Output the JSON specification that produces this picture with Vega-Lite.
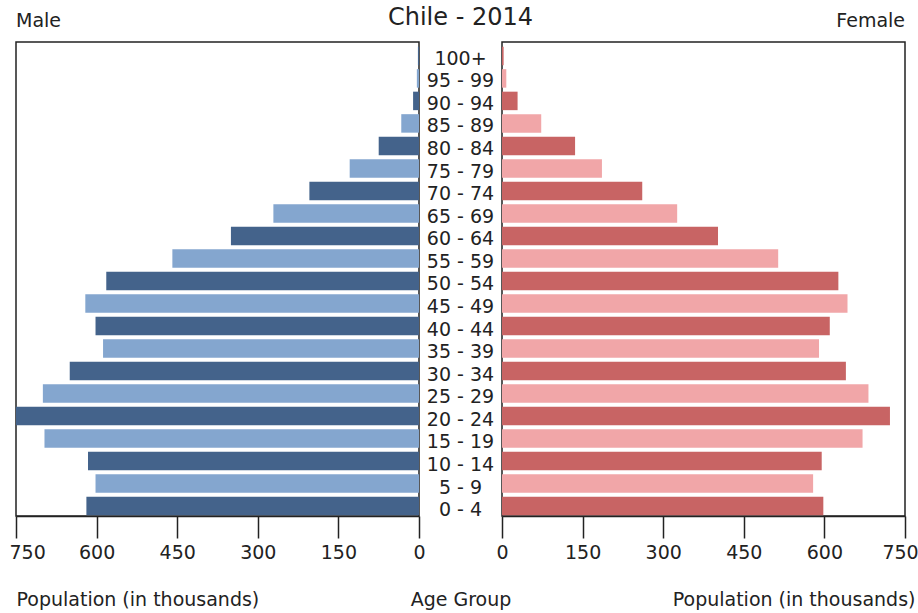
{
  "$schema": "https://vega.github.io/schema/vega-lite/v6.json",
  "padding": {"left": 8, "top": 6, "right": 5, "bottom": 5},
  "background": "white",
  "bounds": "flush",
  "spacing": 0,
  "data": {
    "values": [
      {"age": "100+", "male": 2, "female": 3},
      {"age": "95 - 99", "male": 4, "female": 8},
      {"age": "90 - 94", "male": 11, "female": 29},
      {"age": "85 - 89", "male": 33, "female": 73},
      {"age": "80 - 84", "male": 75, "female": 136},
      {"age": "75 - 79", "male": 129, "female": 186},
      {"age": "70 - 74", "male": 204, "female": 261},
      {"age": "65 - 69", "male": 271, "female": 326},
      {"age": "60 - 64", "male": 350, "female": 402},
      {"age": "55 - 59", "male": 459, "female": 514},
      {"age": "50 - 54", "male": 582, "female": 626},
      {"age": "45 - 49", "male": 621, "female": 643},
      {"age": "40 - 44", "male": 602, "female": 610},
      {"age": "35 - 39", "male": 588, "female": 590},
      {"age": "30 - 34", "male": 650, "female": 640},
      {"age": "25 - 29", "male": 700, "female": 682},
      {"age": "20 - 24", "male": 750, "female": 722},
      {"age": "15 - 19", "male": 697, "female": 671},
      {"age": "10 - 14", "male": 616, "female": 595},
      {"age": "5 - 9", "male": 602, "female": 579},
      {"age": "0 - 4", "male": 619, "female": 598}
    ]
  },
  "hconcat": [
    {
      "width": 403,
      "height": 474,
      "title": {"text": "Male", "anchor": "start", "frame": "group", "fontSize": 19, "fontWeight": "normal", "baseline": "alphabetic", "offset": -4, "color": "#222"},
      "mark": {"type": "bar"},
      "encoding": {
        "y": {"field": "age", "type": "nominal",
          "sort": ["100+","95 - 99","90 - 94","85 - 89","80 - 84","75 - 79","70 - 74","65 - 69","60 - 64","55 - 59","50 - 54","45 - 49","40 - 44","35 - 39","30 - 34","25 - 29","20 - 24","15 - 19","10 - 14","5 - 9","0 - 4"],
          "scale": {"paddingInner": 0.178, "paddingOuter": 0.122, "align": 0.85},
          "axis": null},
        "x": {"field": "male", "type": "quantitative",
          "scale": {"domain": [0, 750], "reverse": true, "nice": false},
          "axis": {"values": [0, 150, 300, 450, 600, 750], "title": "Population (in thousands)", "titleX": 0, "titleAlign": "left", "labelFlush": false,
            "labelAlign": {"condition": {"test": "datum.value == 750", "value": "left"}, "value": "center"},
            "labelOffset": {"condition": {"test": "datum.value == 750", "value": -7}, "value": 0}}},
        "color": {"field": "age", "type": "nominal",
          "scale": {"domain": ["100+","95 - 99","90 - 94","85 - 89","80 - 84","75 - 79","70 - 74","65 - 69","60 - 64","55 - 59","50 - 54","45 - 49","40 - 44","35 - 39","30 - 34","25 - 29","20 - 24","15 - 19","10 - 14","5 - 9","0 - 4"],
            "range": ["#44638b","#84a6cf","#44638b","#84a6cf","#44638b","#84a6cf","#44638b","#84a6cf","#44638b","#84a6cf","#44638b","#84a6cf","#44638b","#84a6cf","#44638b","#84a6cf","#44638b","#84a6cf","#44638b","#84a6cf","#44638b"]},
          "legend": null}
      }
    },
    {
      "width": 83,
      "height": 474,
      "view": {"stroke": null},
      "title": {"text": "Chile - 2014", "anchor": "middle", "frame": "group", "fontSize": 24, "fontWeight": "normal", "baseline": "alphabetic", "offset": -7, "color": "#222"},
      "mark": {"type": "text", "fontSize": 19, "color": "#222", "baseline": "middle", "align": "center", "dy": -2.5},
      "encoding": {
        "y": {"field": "age", "type": "nominal",
          "sort": ["100+","95 - 99","90 - 94","85 - 89","80 - 84","75 - 79","70 - 74","65 - 69","60 - 64","55 - 59","50 - 54","45 - 49","40 - 44","35 - 39","30 - 34","25 - 29","20 - 24","15 - 19","10 - 14","5 - 9","0 - 4"],
          "scale": {"paddingInner": 0.178, "paddingOuter": 0.122, "align": 0.85},
          "axis": null},
        "x": {"datum": 0, "type": "quantitative",
          "scale": {"domain": [-1, 1], "nice": false},
          "axis": {"title": "Age Group", "labels": false, "ticks": false, "domain": false, "grid": false}},
        "text": {"field": "age", "type": "nominal"}
      }
    },
    {
      "width": 403,
      "height": 474,
      "title": {"text": "Female", "anchor": "end", "frame": "group", "fontSize": 19, "fontWeight": "normal", "baseline": "alphabetic", "offset": -4, "color": "#222"},
      "mark": {"type": "bar"},
      "encoding": {
        "y": {"field": "age", "type": "nominal",
          "sort": ["100+","95 - 99","90 - 94","85 - 89","80 - 84","75 - 79","70 - 74","65 - 69","60 - 64","55 - 59","50 - 54","45 - 49","40 - 44","35 - 39","30 - 34","25 - 29","20 - 24","15 - 19","10 - 14","5 - 9","0 - 4"],
          "scale": {"paddingInner": 0.178, "paddingOuter": 0.122, "align": 0.85},
          "axis": null},
        "x": {"field": "female", "type": "quantitative",
          "scale": {"domain": [0, 750], "nice": false},
          "axis": {"values": [0, 150, 300, 450, 600, 750], "title": "Population (in thousands)", "titleX": 413, "titleAlign": "right", "labelFlush": false,
            "labelOffset": {"condition": {"test": "datum.value == 750", "value": -5}, "value": 0}}},
        "color": {"field": "age", "type": "nominal",
          "scale": {"domain": ["100+","95 - 99","90 - 94","85 - 89","80 - 84","75 - 79","70 - 74","65 - 69","60 - 64","55 - 59","50 - 54","45 - 49","40 - 44","35 - 39","30 - 34","25 - 29","20 - 24","15 - 19","10 - 14","5 - 9","0 - 4"],
            "range": ["#c86464","#f1a6a8","#c86464","#f1a6a8","#c86464","#f1a6a8","#c86464","#f1a6a8","#c86464","#f1a6a8","#c86464","#f1a6a8","#c86464","#f1a6a8","#c86464","#f1a6a8","#c86464","#f1a6a8","#c86464","#f1a6a8","#c86464"]},
          "legend": null}
      }
    }
  ],
  "resolve": {"scale": {"color": "independent", "x": "independent", "y": "independent"}},
  "config": {
    "font": "DejaVu Sans",
    "view": {"stroke": "#222", "strokeWidth": 1.5},
    "title": {"font": "DejaVu Sans"},
    "text": {"font": "DejaVu Sans"},
    "axis": {
      "grid": false,
      "labelFont": "DejaVu Sans",
      "labelFontSize": 19,
      "labelColor": "#222",
      "labelPadding": 5,
      "tickSize": 22,
      "tickColor": "#222",
      "tickWidth": 1.5,
      "domainColor": "#222",
      "domainWidth": 1.5,
      "titleFont": "DejaVu Sans",
      "titleFontSize": 19,
      "titleFontWeight": "normal",
      "titleColor": "#222",
      "titleBaseline": "alphabetic",
      "titleY": 89
    }
  }
}
